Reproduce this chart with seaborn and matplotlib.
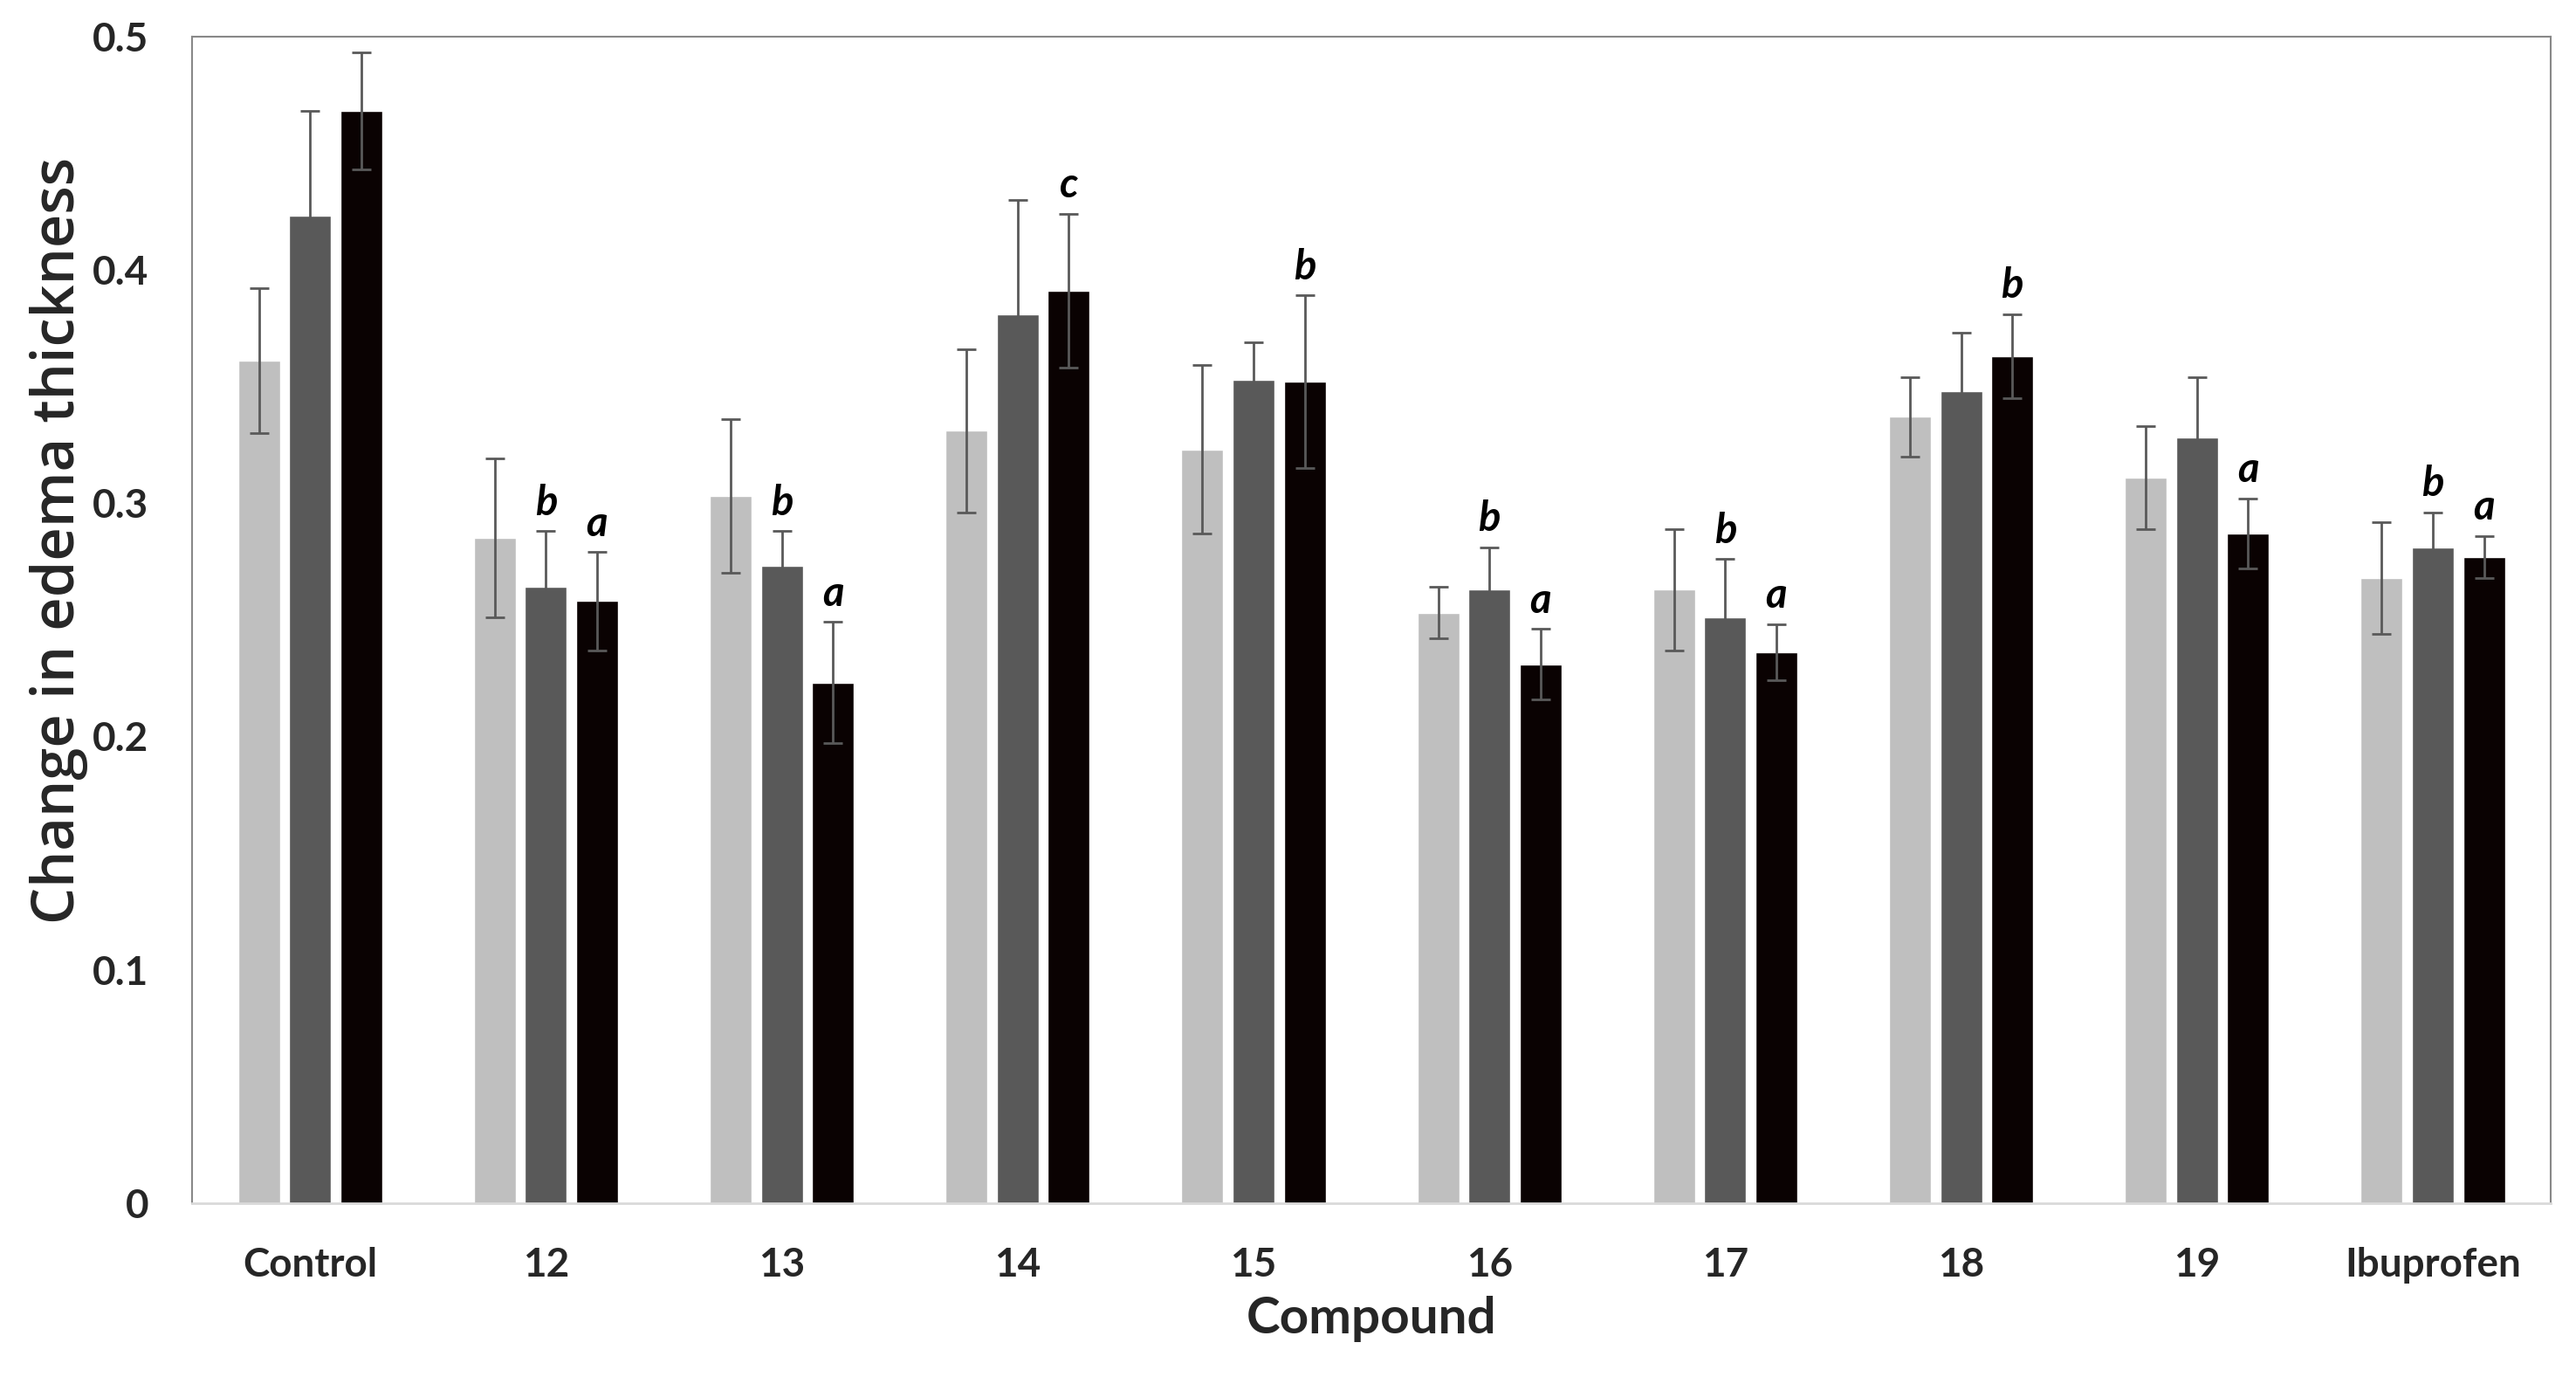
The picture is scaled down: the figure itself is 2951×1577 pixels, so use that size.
import numpy as np
import pandas as pd
import matplotlib
matplotlib.use("Agg")
import matplotlib.pyplot as plt
import seaborn as sns

###############################################################################

compounds = ["Control", "12", "13", "14", "15", "16", "17", "18", "19", "Ibuprofen"]
series_names = ["s1", "s2", "s3"]

mean_s1 = [0.361, 0.285, 0.303, 0.331, 0.323, 0.253, 0.263, 0.337, 0.311, 0.268]
mean_s2 = [0.423, 0.264, 0.273, 0.381, 0.353, 0.263, 0.251, 0.348, 0.328, 0.281]
mean_s3 = [0.468, 0.258, 0.223, 0.391, 0.352, 0.231, 0.236, 0.363, 0.287, 0.277]

err_s1 = [0.031, 0.034, 0.033, 0.035, 0.036, 0.011, 0.026, 0.017, 0.022, 0.024]
err_s2 = [0.045, 0.024, 0.015, 0.049, 0.016, 0.018, 0.025, 0.025, 0.026, 0.015]
err_s3 = [0.025, 0.021, 0.026, 0.033, 0.037, 0.015, 0.012, 0.018, 0.015, 0.009]

letters_s1 = [""] * 10
letters_s2 = ["", "b", "b", "", "", "b", "b", "", "", "b"]
letters_s3 = ["", "a", "a", "c", "b", "a", "a", "b", "a", "a"]

ytick_values = [0, 0.1, 0.2, 0.3, 0.4, 0.5]
ytick_labels = ["0", "0.1", "0.2", "0.3", "0.4", "0.5"]

bar_colors = ["#BFBFBF", "#595959", "#0A0202"]

###############################################################################

means = [mean_s1, mean_s2, mean_s3]
errs = [err_s1, err_s2, err_s3]
letters = [letters_s1, letters_s2, letters_s3]

df = pd.DataFrame({
    "Compound": compounds * 3,
    "Series": [s for s in series_names for _ in compounds],
    "Value": mean_s1 + mean_s2 + mean_s3,
})

sns.set_style("white")
plt.rcParams["font.family"] = ["Lato", "DejaVu Sans"]

fig = plt.figure(figsize=(29.51, 15.77), dpi=100)
ax = fig.add_axes([0.0746, 0.1262, 0.9156, 0.8474])

sns.barplot(
    data=df,
    x="Compound",
    y="Value",
    hue="Series",
    order=compounds,
    hue_order=series_names,
    palette=bar_colors,
    saturation=1,
    width=0.65,
    gap=0.18,
    errorbar=None,
    legend=False,
    ax=ax)

# error bars and significance letters on top of each bar
bar_containers = list(ax.containers)
for i, container in enumerate(bar_containers):
    for j, bar in enumerate(container):
        xc = bar.get_x() + bar.get_width() / 2
        yv = bar.get_height()
        ax.errorbar(xc, yv, yerr=errs[i][j], fmt="none", ecolor="#595959",
                    elinewidth=2, capsize=8, capthick=2, zorder=5)
        if letters[i][j]:
            ax.text(xc, yv + errs[i][j] + 0.007, letters[i][j],
                    ha="center", va="baseline", fontsize=34,
                    fontweight="bold", fontstyle="italic", color="black")

ax.set_xlim(-0.5, len(compounds) - 0.5)
ax.set_ylim(0, 0.5)
ax.set_yticks(ytick_values)
ax.set_yticklabels(ytick_labels)

ax.tick_params(axis="both", length=0, labelsize=33)
ax.tick_params(axis="y", pad=36)
ax.tick_params(axis="x", pad=36)
for lbl in ax.get_xticklabels() + ax.get_yticklabels():
    lbl.set_fontweight("bold")

ax.set_xlabel("Compound", fontsize=42, fontweight="bold")
ax.set_ylabel("Change in edema thickness", fontsize=48, fontweight="semibold",
              family=["Open Sans", "Lato", "DejaVu Sans"])
ax.xaxis.set_label_coords(0.5, -0.0995)
ax.xaxis.label.set_va("center")
ax.yaxis.set_label_coords(-0.0565, 0.568)
ax.yaxis.label.set_va("center")

for side in ["left", "top", "right"]:
    ax.spines[side].set_color("#888888")
    ax.spines[side].set_linewidth(1.5)
ax.spines["bottom"].set_color("#D9D9D9")
ax.spines["bottom"].set_linewidth(2)

fig.savefig("out.png", dpi=100)
plt.close(fig)
